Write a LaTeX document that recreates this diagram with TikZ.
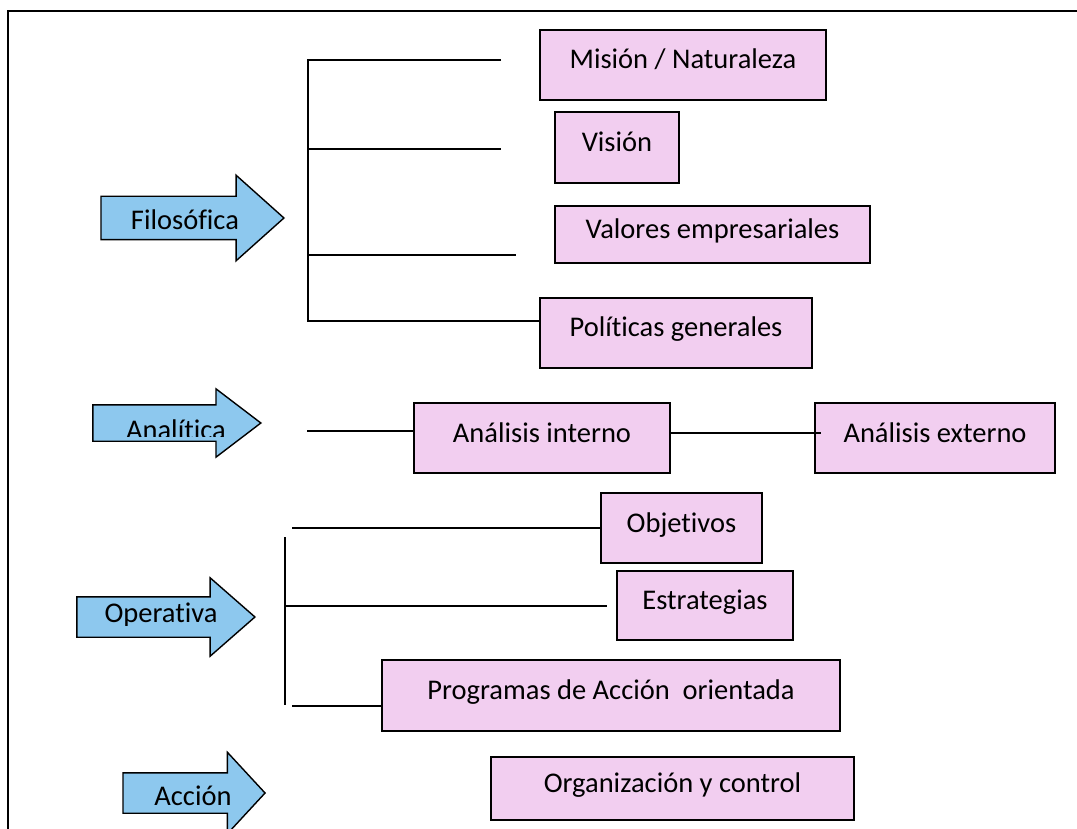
\documentclass[tikz,border=0pt]{standalone}
\usepackage{fontspec}
\setmainfont{Carlito}[Ligatures=NoCommon]
\usetikzlibrary{shapes.arrows}
\definecolor{rosa}{RGB}{242,206,240}
\definecolor{celeste}{RGB}{141,200,238}
\begin{document}
\begin{tikzpicture}[x=1pt,y=-1pt,line width=1.4pt,
  every node/.style={font=\fontsize{28.5}{34}\selectfont},
  caja/.style={draw, fill=rosa, inner sep=0pt, text height=18pt, text depth=10pt},
  flecha/.style n args={4}{shape=single arrow, draw, fill=celeste, anchor=tip,
    inner xsep=0pt, inner ysep=#1, minimum height=#2, minimum width=0pt,
    single arrow head extend=#3, single arrow tip angle=#4},
  rotulo/.style={anchor=base, inner sep=0pt}]
\useasboundingbox (0,0) rectangle (1077,829);
% marco
\draw (8,829) |- (1077,11);
% flechas
\node[flecha={21pt}{183pt}{21pt}{83.6}] (filosofica) at (285,218) {};
\node[flecha={17.5pt}{168pt}{16pt}{74.6}] (analitica) at (262,423) {};
\node[flecha={19.5pt}{178pt}{19pt}{82.4}] (operativa) at (256,617) {};
\node[flecha={19.5pt}{142pt}{20.5pt}{94.5}] (accion) at (266,793) {};
\node[rotulo] (tfil) at (185,230) {Filosófica};
\begin{scope}
\clip (90,400) rectangle (262,436);
\node[rotulo] (tana) at (176,439) {Analítica};
\end{scope}
\begin{scope}
\clip (70,590) rectangle (256,625);
\node[rotulo] (tope) at (161,622) {Operativa};
\end{scope}
\node[rotulo] (tacc) at (193,805) {Acción};
% cajas
\node[caja, minimum width=286pt, minimum height=70pt] (mision) at (683,65) {Misión / Naturaleza};
\node[caja, minimum width=124pt, minimum height=71pt] (vision) at (617,147.5) {Visión};
\node[caja, minimum width=315pt, minimum height=57pt] (valores) at (712.5,234.5) {Valores empresariales};
\node[caja, minimum width=272pt, minimum height=70pt] (politicas) at (676,333) {Políticas generales};
\node[caja, minimum width=256pt, minimum height=70pt] (interno) at (542,438) {Análisis interno};
\node[caja, minimum width=240pt, minimum height=70pt] (externo) at (935,438) {Análisis externo};
\node[caja, minimum width=161pt, minimum height=70pt] (objetivos) at (681.5,528) {Objetivos};
\node[caja, minimum width=176pt, minimum height=69pt] (estrategias) at (705,605.5) {Estrategias};
\node[caja, minimum width=458pt, minimum height=71pt] (programas) at (611,695.5) {Programas de Acción~ orientada};
\node[caja, minimum width=363pt, minimum height=63pt] (organizacion) at (672.5,788.5) {Organización y control};
% filosofica
\coordinate (f1) at (308,60);
\coordinate (f1e) at (501,60);
\coordinate (f2) at (308,149);
\coordinate (f2e) at (501,149);
\coordinate (f3) at (308,255);
\coordinate (f3e) at (516,255);
\coordinate (f4) at (308,321);
\draw (f1e) -- (f1) -- (f4) -- (f4 -| politicas.west);
\draw (f2) -- (f2e);
\draw (f3) -- (f3e);
% analitica
\coordinate (a1) at (307,431);
\draw (a1) -- (a1 -| interno.west);
\draw[shorten >=-7pt] ([yshift=5pt]interno.east) -- ([yshift=5pt]externo.west);
% operativa
\coordinate (o1) at (292,528);
\coordinate (ov1) at (285,537);
\coordinate (ov2) at (285,705);
\coordinate (o2) at (285,606);
\coordinate (o2e) at (607,606);
\coordinate (o3) at (292,706);
\draw (o1) -- (o1 -| objetivos.west);
\draw (ov1) -- (ov2);
\draw (o2) -- (o2e);
\draw (o3) -- (o3 -| programas.west);
\end{tikzpicture}
\end{document}
